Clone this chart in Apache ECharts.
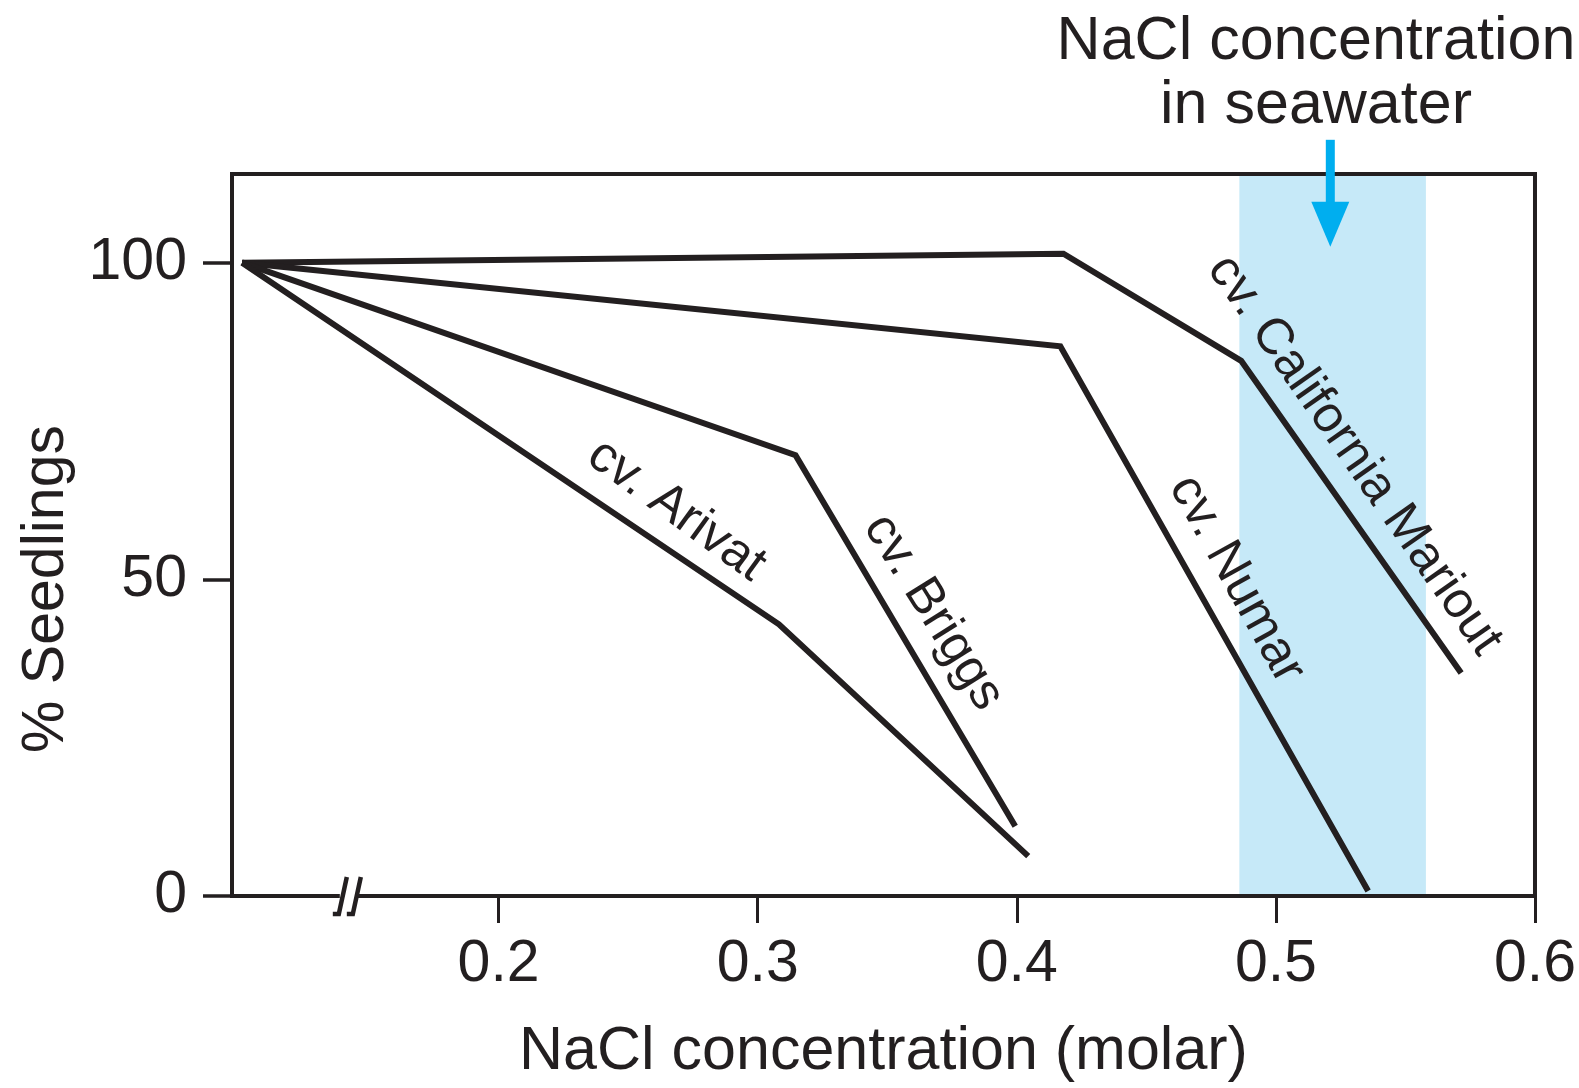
<!DOCTYPE html>
<html><head><meta charset="utf-8">
<script src="https://cdn.jsdelivr.net/npm/echarts@6/dist/echarts.min.js"></script>
<style>html,body{margin:0;padding:0;background:#fff}#c{width:1579px;height:1088px}</style>
</head><body><div id="c"></div>
<script>
// ---- data ----
const xTicks = [0.2, 0.3, 0.4, 0.5, 0.6];
const yTicks = [0, 50, 100];
const marioutX = [0.101, 0.418, 0.4866, 0.5715];
const marioutY = [100, 101.4, 84.5, 35.2];
const numarX = [0.101, 0.4168, 0.5356];
const numarY = [100, 86.8, 0.8];
const briggsX = [0.101, 0.3146, 0.3994];
const briggsY = [100, 69.6, 11.0];
const arivatX = [0.101, 0.3082, 0.4044];
const arivatY = [100, 42.9, 6.3];
const seawaterBand = [0.4859, 0.5579];
const seawaterArrowX = 0.521;
const names = ['cv. California Mariout', 'cv. Numar', 'cv. Briggs', 'cv. Arivat'];

const INK = '#231f20';
const FONT = '"Liberation Sans", Arial, Helvetica, sans-serif';
const pair = (xs, ys) => xs.map((x, i) => [x, ys[i]]);

const labelCfg = [
  {coord: [0.5303, 69.6], rotate: -55},
  {coord: [0.4848, 50.0], rotate: -61},
  {coord: [0.3678, 44.8], rotate: -58},
  {coord: [0.2686, 60.9], rotate: -36}
];
const seriesData = [pair(marioutX, marioutY), pair(numarX, numarY), pair(briggsX, briggsY), pair(arivatX, arivatY)];

const chart = echarts.init(document.getElementById('c'), null, {renderer: 'canvas'});

const series = [{
  type: 'line', name: 'band', data: [], z: 1, silent: true,
  markArea: {
    silent: true,
    itemStyle: {color: '#c6e9f8', opacity: 1},
    data: [[{xAxis: seawaterBand[0]}, {xAxis: seawaterBand[1]}]]
  }
}];
seriesData.forEach((d, i) => {
  series.push({
    type: 'line', name: names[i], data: d, z: 2,
    showSymbol: false, symbol: 'none', silent: true,
    lineStyle: {color: INK, width: 6, join: 'miter', cap: 'butt'},
    markPoint: {
      silent: true, symbol: 'circle', symbolSize: 0,
      data: [{coord: labelCfg[i].coord}],
      label: {
        show: true, position: 'inside', formatter: names[i],
        rotate: labelCfg[i].rotate, fontSize: 51, fontFamily: FONT, color: INK
      }
    }
  });
});

chart.setOption({
  animation: false,
  backgroundColor: '#fff',
  grid: {left: 232, right: 42, top: 174, bottom: 185, show: true, borderColor: INK, borderWidth: 4, z: 3},
  xAxis: {
    type: 'value', min: 0.0971, max: 0.6, z: 3,
    axisLine: {show: false},
    splitLine: {show: false},
    axisTick: {show: true, inside: false, length: 27, customValues: xTicks, lineStyle: {color: INK, width: 3}},
    axisLabel: {customValues: xTicks, margin: 39, fontSize: 59, fontFamily: FONT, color: INK,
      formatter: v => String(Math.round(v * 10) / 10)},
    name: 'NaCl concentration (molar)', nameLocation: 'middle', nameGap: 126,
    nameTextStyle: {fontSize: 61, fontFamily: FONT, color: INK}
  },
  yAxis: {
    type: 'value', min: 0, max: 114, z: 3,
    axisLine: {show: false},
    splitLine: {show: false},
    axisTick: {show: true, inside: false, length: 29, customValues: yTicks, lineStyle: {color: INK, width: 3.5}},
    axisLabel: {customValues: yTicks, margin: 45, fontSize: 59, fontFamily: FONT, color: INK}
  },
  series: series
});

// annotations positioned through the chart's own scales
const P = (x, y) => chart.convertToPixel({gridIndex: 0}, [x, y]);
const arrowTop = P(seawaterArrowX, 119.4);
const arrowTip = P(seawaterArrowX, 102.5);
const ax = arrowTop[0];
const brk = P(0.1418, 0);
const bx = brk[0], by = brk[1];

chart.setOption({
  graphic: [
    {type: 'text', z: 10, x: 47, y: 589, rotation: Math.PI / 2,
      style: {text: '% Seedlings', fontSize: 59, fontFamily: FONT, fill: INK, align: 'center', verticalAlign: 'middle'}},
    {type: 'rect', z: 10, shape: {x: ax - 4.5, y: arrowTop[1], width: 9, height: arrowTip[1] - 42 - arrowTop[1]}, style: {fill: '#00aeef'}},
    {type: 'polygon', z: 10, shape: {points: [[ax - 19, arrowTip[1] - 45], [ax + 19, arrowTip[1] - 45], [ax, arrowTip[1]]]}, style: {fill: '#00aeef'}},
    {type: 'text', z: 10, x: 1316, y: 42, style: {text: 'NaCl concentration', fontSize: 61, fontFamily: FONT, fill: INK, align: 'center', verticalAlign: 'middle'}},
    {type: 'text', z: 10, x: 1316, y: 106, style: {text: 'in seawater', fontSize: 61, fontFamily: FONT, fill: INK, align: 'center', verticalAlign: 'middle'}},
    {type: 'rect', z: 10, shape: {x: bx - 8, y: by - 4, width: 16, height: 8}, style: {fill: '#fff'}},
    {type: 'polyline', z: 11, shape: {points: [[bx - 15, by + 18], [bx - 9, by + 18], [bx - 1, by - 19]]}, style: {stroke: INK, lineWidth: 4.5, fill: null}},
    {type: 'polyline', z: 11, shape: {points: [[bx - 1, by + 18], [bx + 5, by + 18], [bx + 13, by - 19]]}, style: {stroke: INK, lineWidth: 4.5, fill: null}}
  ]
});
</script></body></html>
